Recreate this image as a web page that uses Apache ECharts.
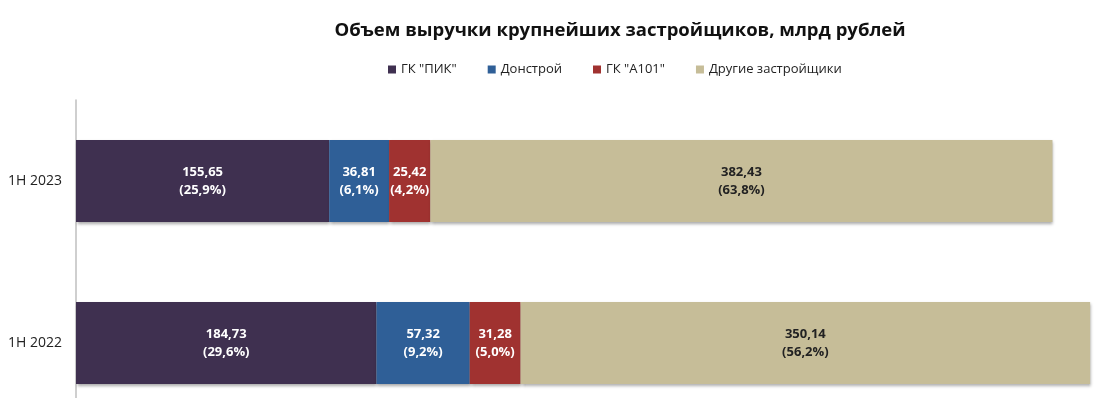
<!DOCTYPE html>
<html>
<head>
<meta charset="utf-8">
<script src="https://cdn.jsdelivr.net/npm/echarts@6/dist/echarts.min.js"></script>
<style>
  html, body { margin: 0; padding: 0; background: #fff; }
  #chart { width: 1098px; height: 398px; }
</style>
</head>
<body>
<div id="chart"></div>
<script>
const categories = ['1H 2022', '1H 2023']
const seriesNames = ['ГК "ПИК"', 'Донстрой', 'ГК "А101"', 'Другие застройщики']
// значения по категориям (1H 2022, 1H 2023)
const pik = [184.73, 155.65]
const donstroy = [57.32, 36.81]
const a101 = [31.28, 25.42]
const others = [350.14, 382.43]
// доли, как подписаны на картинке
const pikShare = ['29,6%', '25,9%']
const donstroyShare = ['9,2%', '6,1%']
const a101Share = ['5,0%', '4,2%']
const othersShare = ['56,2%', '63,8%']

const colors = ['#3f3050', '#2f5f97', '#a03230', '#c6bd98']
const values = [pik, donstroy, a101, others]
const shares = [pikShare, donstroyShare, a101Share, othersShare]
const FONT = '"Open Sans", "Noto Sans", sans-serif'

const chart = echarts.init(document.getElementById('chart'))

chart.setOption({
    animation: false,
    textStyle: { fontFamily: FONT },
    title: {
        text: 'Объем выручки крупнейших застройщиков, млрд рублей',
        left: 615,
        textAlign: 'center',
        top: 16,
        textStyle: { fontSize: 18.5, fontWeight: 'bold', color: '#111', fontFamily: FONT }
    },
    legend: {
        data: seriesNames,
        left: 383,
        top: 58,
        icon: 'rect',
        itemWidth: 8,
        itemHeight: 8,
        itemGap: 31,
        textStyle: { fontSize: 13, color: '#222', fontFamily: FONT }
    },
    grid: {
        left: 76,
        right: 7,
        top: 100,
        height: 324,
        outerBoundsMode: 'none'
    },
    xAxis: {
        type: 'value',
        min: 0,
        max: 624,
        show: false
    },
    yAxis: {
        type: 'category',
        data: categories,
        axisTick: { show: false },
        axisLine: { lineStyle: { color: '#bfbfbf', width: 1.5 } },
        axisLabel: { fontSize: 14, color: '#222', margin: 14, fontFamily: FONT }
    },
    series: seriesNames.map((name, i) => ({
        name: name,
        type: 'bar',
        stack: 'total',
        barWidth: 82,
        data: values[i],
        itemStyle: {
            color: colors[i],
            shadowColor: 'rgba(0,0,0,0.35)',
            shadowBlur: 3,
            shadowOffsetX: 1,
            shadowOffsetY: 2
        },
        label: {
            show: true,
            position: 'inside',
            fontSize: 13,
            fontWeight: 'bold',
            lineHeight: 18,
            fontFamily: FONT,
            color: i === 3 ? '#222' : '#fff',
            formatter: p => String(values[i][p.dataIndex].toFixed(2)).replace('.', ',') + '\n(' + shares[i][p.dataIndex] + ')'
        }
    }))
})
</script>
</body>
</html>
